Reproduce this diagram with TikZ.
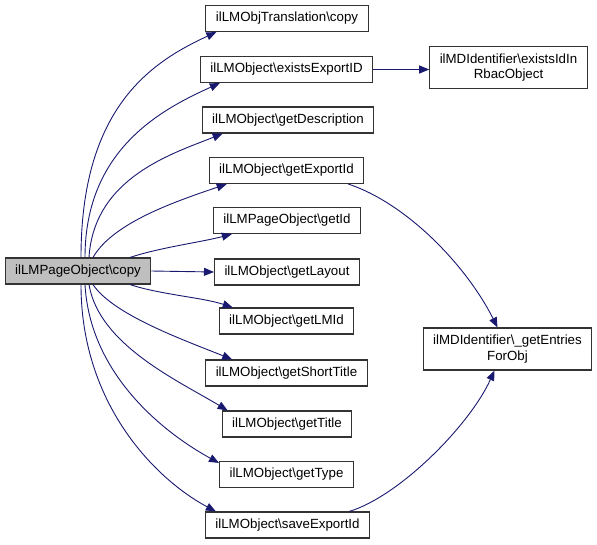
\documentclass[tikz,border=0pt]{standalone}
\usepackage{fontspec}
\setmainfont{Liberation Sans}
\usetikzlibrary{arrows.meta,calc}
\definecolor{edgeblue}{HTML}{191970}
\definecolor{mainfill}{HTML}{BFBFBF}
\newcommand{\bs}{\textbackslash}
\begin{document}
\begin{tikzpicture}[x=1pt, y=-1pt, font=\fontsize{13.3}{15.5}\selectfont]
    \tikzset{%
      fn/.style={draw=black!80, line width=1.1pt, fill=white, inner xsep=10pt, inner ysep=0pt, minimum height=26pt, align=center},
      fnmain/.style={fn, fill=mainfill},
      fntwo/.style={fn, minimum height=42pt},
      call/.style={draw=edgeblue, line width=0.9pt, -{Triangle[length=10pt, width=8pt]}}
      }
    \useasboundingbox (0,0) rectangle (597,544);

    \node [fnmain] (Xmain) at (78, 271) {ilLMPageObject\bs copy};

    \node [fn] (Xcopy) at (287, 18.5) {ilLMObjTranslation\bs copy};
    \node [fn] (Xexid) at (286.5, 69.5) {ilLMObject\bs existsExportID};
    \node [fn] (Xdesc) at (288, 120) {ilLMObject\bs getDescription};
    \node [fn] (Xgexp) at (286.5, 170.5) {ilLMObject\bs getExportId};
    \node [fn] (Xgid) at (287, 220.5) {ilLMPageObject\bs getId};
    \node [fn] (Xlay) at (287, 272) {ilLMObject\bs getLayout};
    \node [fn] (Xlmid) at (286.5, 321) {ilLMObject\bs getLMId};
    \node [fn] (Xstit) at (286.5, 373) {ilLMObject\bs getShortTitle};
    \node [fn] (Xtit) at (287, 424) {ilLMObject\bs getTitle};
    \node [fn] (Xtyp) at (286.5, 474.5) {ilLMObject\bs getType};
    \node [fn] (Xsexp) at (287.5, 525) {ilLMObject\bs saveExportId};

    \node [fntwo] (Xrbac) at (508.5, 67.5) {ilMDIdentifier\bs existsIdIn\\RbacObject};
    \node [fntwo] (Xent) at (507.5, 349) {ilMDIdentifier\bs \_getEntries\\ForObj};

    \draw [call] ($(Xmain.north)+(3,0)$) .. controls +(0,-150) and +(-65,30) .. ($(Xcopy.south west)+(11,0)$);
    \draw [call] ($(Xmain.north)+(7,0)$) .. controls +(0,-110) and +(-55,25) .. ($(Xexid.south west)+(20,0)$);
    \draw [call] ($(Xmain.north)+(11,0)$) .. controls +(5,-80) and +(-50,20) .. ($(Xdesc.south west)+(21,0)$);
    \draw [call] ($(Xmain.north)+(15,0)$) .. controls +(20,-35) and +(-50,17) .. ($(Xgexp.south west)+(18,0)$);
    \draw [call] ($(Xmain.north)+(52,0)$) .. controls +(30,-10) and +(-30,8) .. ($(Xgid.south west)+(19,0)$);
    \draw [call] (Xmain.east) -- (Xlay.west);
    \draw [call] ($(Xmain.south)+(52,0)$) .. controls +(30,10) and +(-30,-10) .. ($(Xlmid.north west)+(14,0)$);
    \draw [call] ($(Xmain.south)+(15,0)$) .. controls +(20,30) and +(-50,-20) .. ($(Xstit.north west)+(27,0)$);
    \draw [call] ($(Xmain.south)+(11,0)$) .. controls +(10,60) and +(-50,-30) .. ($(Xtit.north west)+(6,0)$);
    \draw [call] ($(Xmain.south)+(7,0)$) .. controls +(5,90) and +(-55,-30) .. ($(Xtyp.north west)+(0,2)$);
    \draw [call] ($(Xmain.south)+(3,0)$) .. controls +(0,120) and +(-60,-32) .. ($(Xsexp.north west)+(11,0)$);

    \draw [call] (Xexid.east) -- (Xrbac.west |- Xexid.east);
    \draw [call] ($(Xgexp.south east)+(-16,0)$) .. controls +(60,20) and +(-30,-60) .. ($(Xent.north)+(-10,0)$);
    \draw [call] ($(Xsexp.north east)+(-21,0)$) .. controls +(50,-15) and +(-25,55) .. ($(Xent.south)+(-13,0)$);
  \end{tikzpicture}
\end{document}
